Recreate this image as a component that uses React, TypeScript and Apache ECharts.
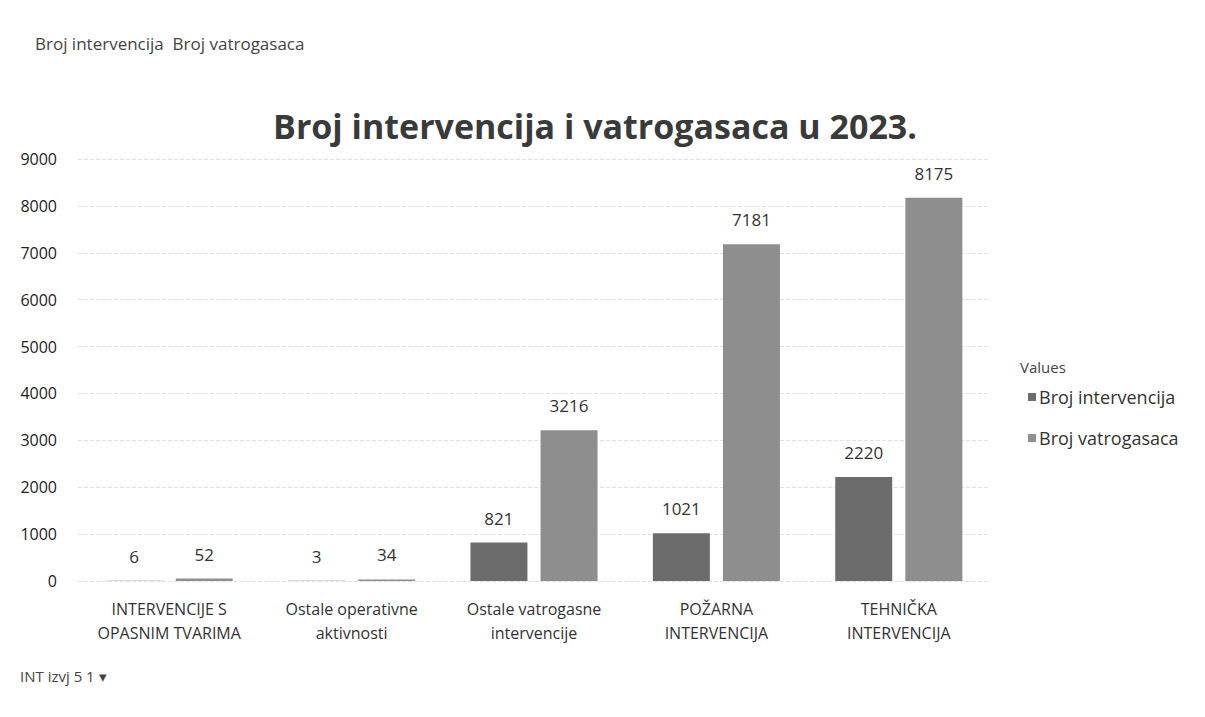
import React, { useEffect, useRef } from "react";
import * as echarts from "echarts";

const categories = [
  "INTERVENCIJE S\nOPASNIM TVARIMA",
  "Ostale operativne\naktivnosti",
  "Ostale vatrogasne\nintervencije",
  "POŽARNA\nINTERVENCIJA",
  "TEHNIČKA\nINTERVENCIJA",
];
const brojIntervencija = [6, 3, 821, 1021, 2220];
const brojVatrogasaca = [52, 34, 3216, 7181, 8175];
const seriesNames = ["Broj intervencija", "Broj vatrogasaca"];
const yTicks = { min: 0, max: 9000, interval: 1000 };

const FONT = "'Open Sans', 'Noto Sans', sans-serif";

export default function App() {
  const ref = useRef<HTMLDivElement>(null);
  useEffect(() => {
    document.body.style.margin = "0";
    const chart = echarts.init(ref.current!, null, { renderer: "svg" });
    chart.setOption({
      animation: false,
      backgroundColor: "#ffffff",
      textStyle: { fontFamily: FONT },
      title: {
        text: "Broj intervencija i vatrogasaca u 2023.",
        left: 590,
        textAlign: "center",
        top: 104,
        textStyle: { fontSize: 34, fontWeight: "bold", color: "#3a3a3a", fontFamily: FONT },
      },
      graphic: [
        {
          type: "text",
          left: 35,
          top: 35,
          style: { text: "Broj intervencija  Broj vatrogasaca", fontSize: 17, fill: "#444", fontFamily: FONT },
        },
        {
          type: "text",
          left: 20,
          top: 668,
          style: { text: "INT izvj 5 1 ▾", fontSize: 15, fill: "#444", fontFamily: FONT },
        },
        {
          type: "text",
          left: 1020,
          top: 359,
          style: { text: "Values", fontSize: 15, fill: "#444", fontFamily: FONT },
        },
      ],
      legend: {
        orient: "vertical",
        left: 1023,
        top: 383,
        itemWidth: 8,
        itemHeight: 8,
        itemGap: 23,
        icon: "rect",
        textStyle: { fontSize: 18, color: "#333", fontFamily: FONT, padding: [0, 0, 0, -2] },
        data: seriesNames,
      },
      grid: { left: 78, right: 215, top: 159, bottom: 136, containLabel: false },
      xAxis: {
        type: "category",
        data: categories,
        axisLine: { show: false },
        axisTick: { show: false },
        axisLabel: { fontSize: 16, color: "#333", lineHeight: 24, margin: 16, interval: 0, fontFamily: FONT },
      },
      yAxis: {
        type: "value",
        min: yTicks.min,
        max: yTicks.max,
        interval: yTicks.interval,
        axisLine: { show: false },
        axisTick: { show: false },
        axisLabel: { fontSize: 16, color: "#222", margin: 21, fontFamily: FONT, formatter: (v: number) => String(v) },
        splitLine: { lineStyle: { color: "#e2e2e2", type: "dashed" } },
      },
      series: [
        {
          name: seriesNames[0],
          type: "bar",
          data: brojIntervencija,
          barWidth: 57,
          barGap: "23%",
          itemStyle: { color: "#6c6c6c" },
          label: { show: true, position: "top", distance: 16, fontSize: 17, color: "#333", fontFamily: FONT },
        },
        {
          name: seriesNames[1],
          type: "bar",
          data: brojVatrogasaca,
          barWidth: 57,
          itemStyle: { color: "#8e8e8e" },
          label: { show: true, position: "top", distance: 16, fontSize: 17, color: "#333", fontFamily: FONT },
        },
      ],
    });
    return () => chart.dispose();
  }, []);
  return <div ref={ref} style={{ width: 1205, height: 717 }} />;
}
